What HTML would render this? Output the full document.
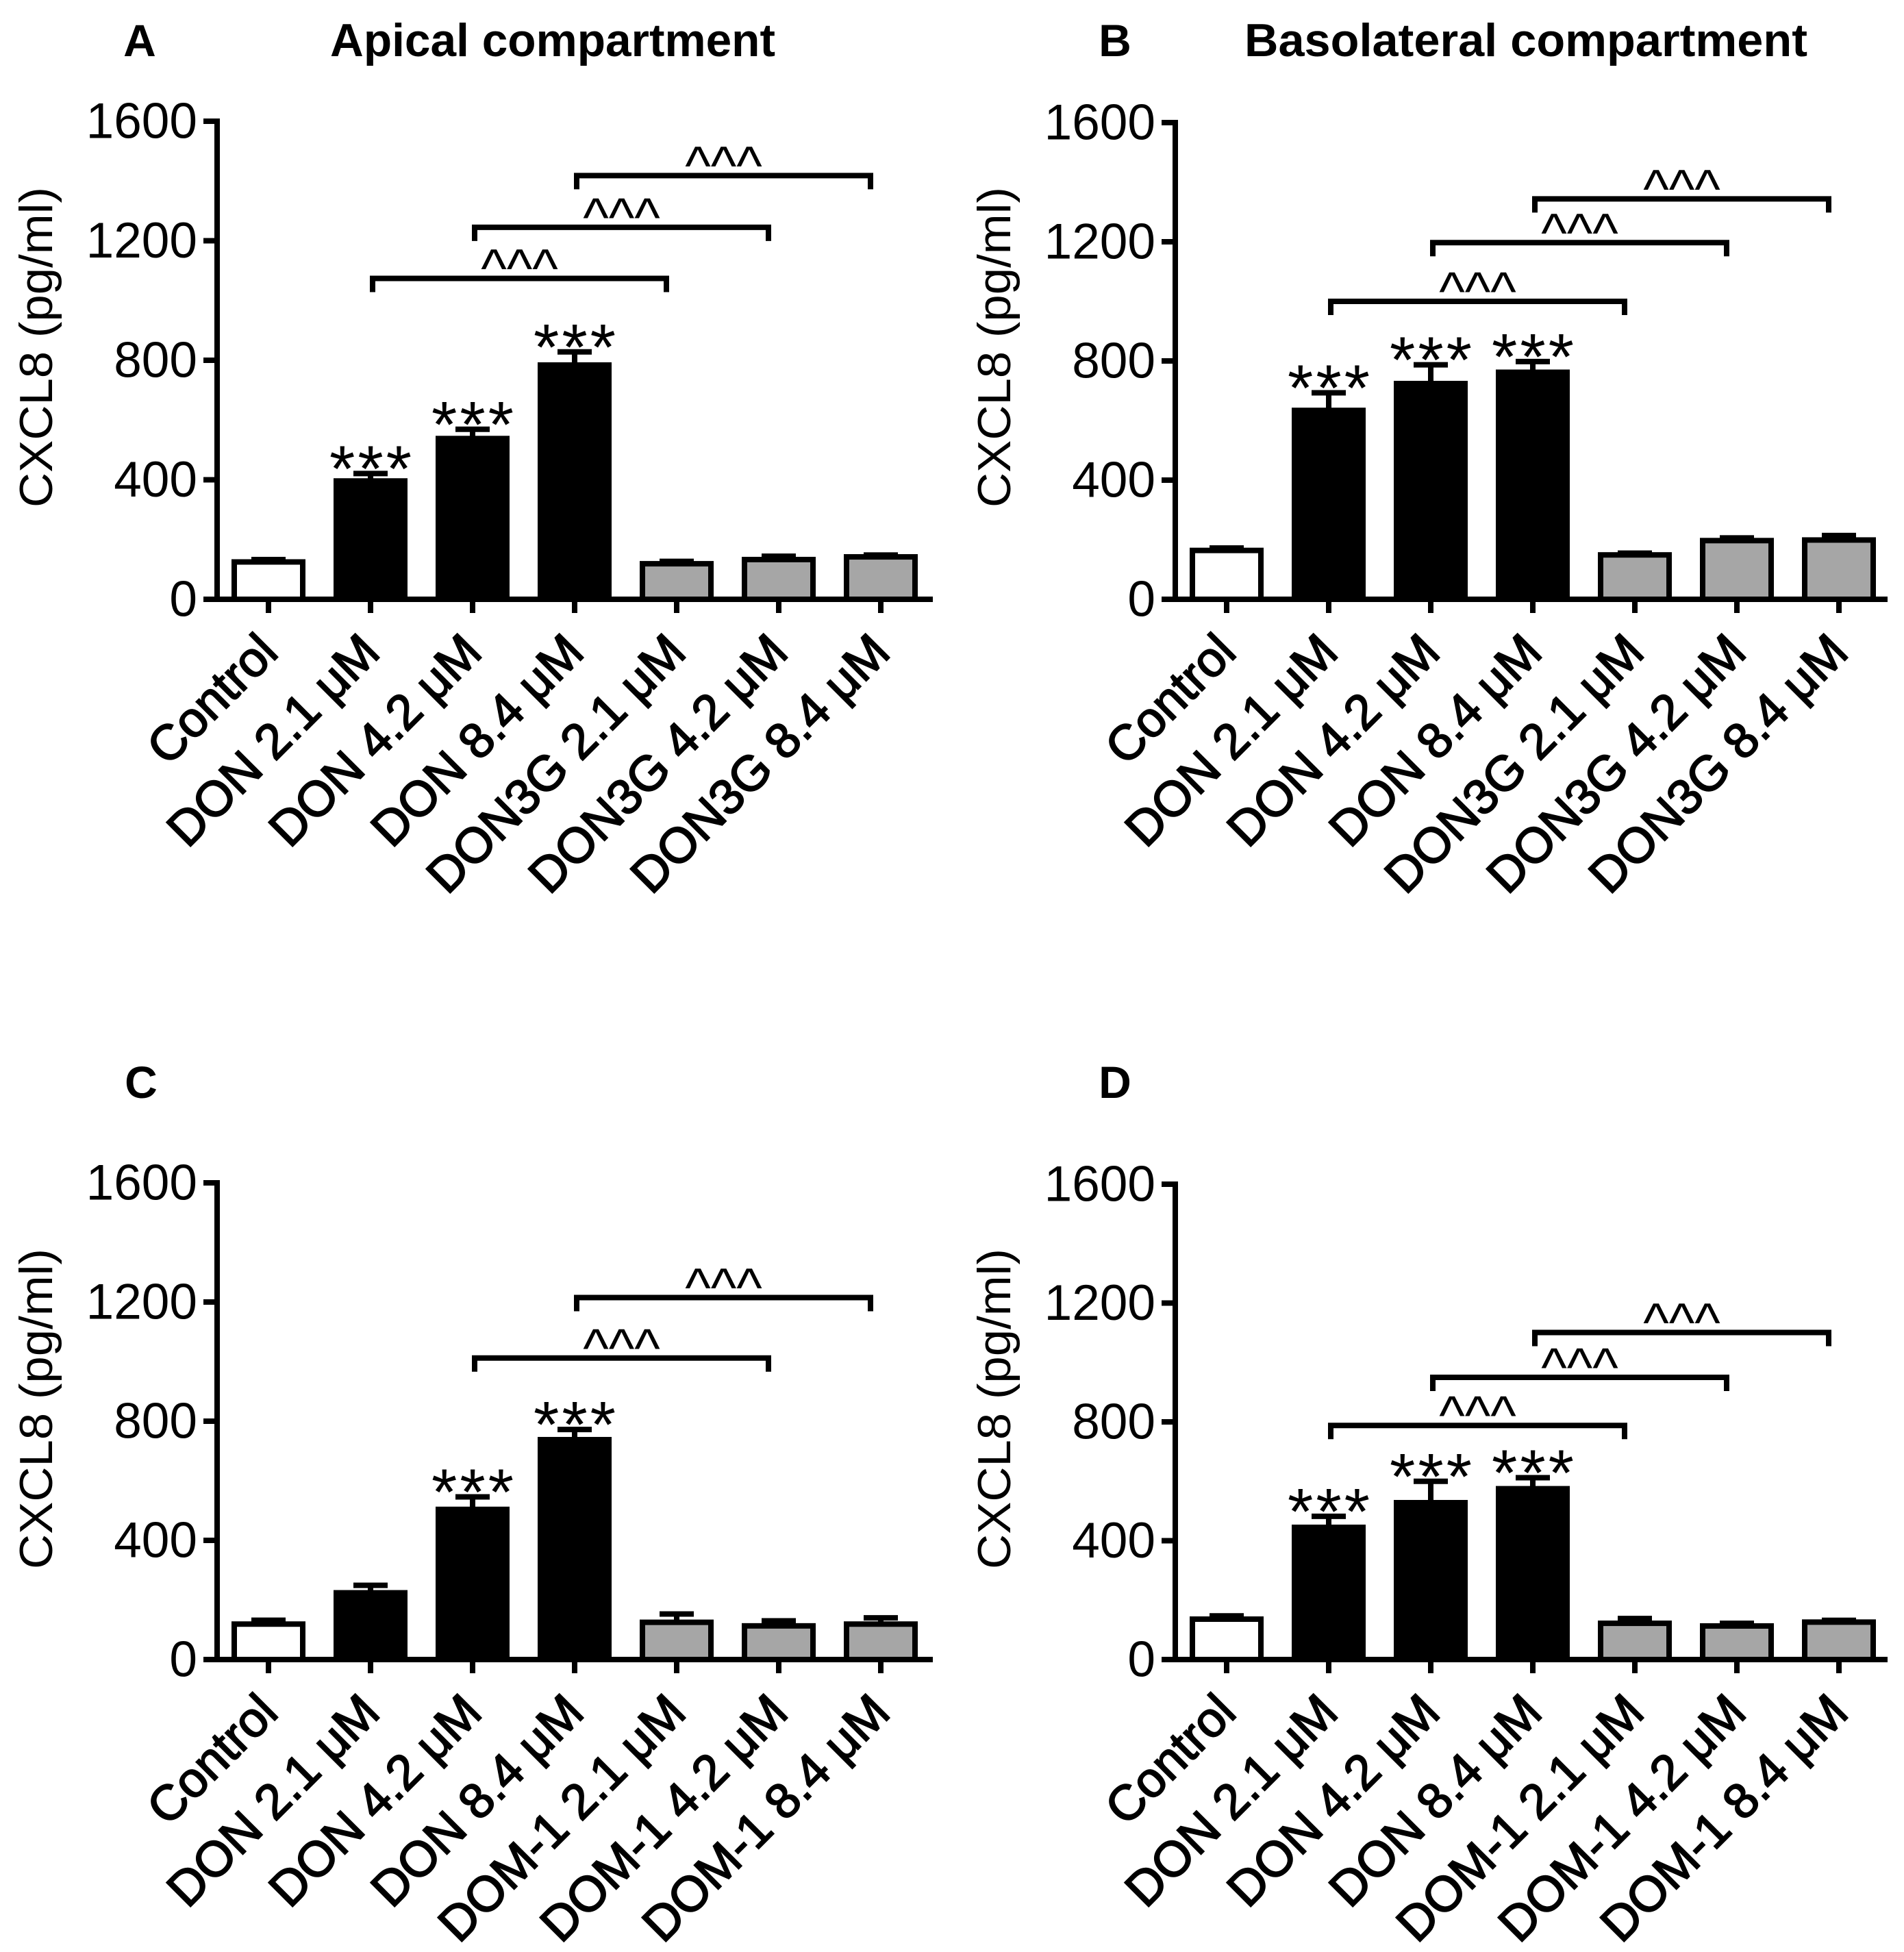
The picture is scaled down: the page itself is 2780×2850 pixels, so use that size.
<!DOCTYPE html>
<html><head><meta charset="utf-8">
<style>
html,body{margin:0;padding:0;background:#fff;}
svg{display:block;font-family:"Liberation Sans",sans-serif;}
</style></head>
<body>
<svg id="fig" width="2780" height="2850" viewBox="0 0 2780 2850" xmlns="http://www.w3.org/2000/svg">
<rect x="0" y="0" width="2780" height="2850" fill="#fff"/>
</svg>
<script>
// ---------- data ----------
const tickValues = [0, 400, 800, 1200, 1600];
const categoriesAB = ["Control","DON 2.1 μM","DON 4.2 μM","DON 8.4 μM","DON3G 2.1 μM","DON3G 4.2 μM","DON3G 8.4 μM"];
const categoriesCD = ["Control","DON 2.1 μM","DON 4.2 μM","DON 8.4 μM","DOM-1 2.1 μM","DOM-1 4.2 μM","DOM-1 8.4 μM"];

const valuesA = [125, 396, 538, 784, 119, 133, 142];
const errTopA = [133, 421, 569, 828, 127, 144, 148];
const starsA = [0, 1, 1, 1, 0, 0, 0];
const bracketsA = [[1, 4, 1074], [2, 5, 1245], [3, 6, 1418]];

const valuesB = [164, 634, 724, 762, 149, 197, 199];
const errTopB = [172, 693, 787, 798, 155, 206, 214];
const starsB = [0, 1, 1, 1, 0, 0, 0];
const bracketsB = [[1, 4, 1000], [2, 5, 1197], [3, 6, 1344]];

const valuesC = [119, 224, 504, 738, 125, 113, 119];
const errTopC = [132, 249, 546, 772, 153, 130, 140];
const starsC = [0, 0, 1, 1, 0, 0, 0];
const bracketsC = [[2, 5, 1012], [3, 6, 1215]];

const valuesD = [136, 445, 528, 575, 122, 113, 126];
const errTopD = [147, 482, 600, 612, 138, 122, 132];
const starsD = [0, 1, 1, 1, 0, 0, 0];
const bracketsD = [[1, 4, 788], [2, 5, 950], [3, 6, 1101]];

const yMax = 1600;
const barColors = ["#ffffff","#000000","#000000","#000000","#a6a6a6","#a6a6a6","#a6a6a6"];

// ---------- layout ----------
const panels = [
  {id:"a", letter:"A", title:"Apical compartment", titleX:807, titleLen:650, letterX:204, topY:59,
   ax:317, y0:875, y1:177, xEnd:1362, cats:categoriesAB, vals:valuesA, errs:errTopA, stars:starsA, br:bracketsA, ytitleY:507},
  {id:"b", letter:"B", title:"Basolateral compartment", titleX:2228, titleLen:822, letterX:1628, topY:59,
   ax:1716, y0:875, y1:179, xEnd:2756, cats:categoriesAB, vals:valuesB, errs:errTopB, stars:starsB, br:bracketsB, ytitleY:507},
  {id:"c", letter:"C", title:"", letterX:206, topY:1580,
   ax:317, y0:2423, y1:1727, xEnd:1362, cats:categoriesCD, vals:valuesC, errs:errTopC, stars:starsC, br:bracketsC, ytitleY:2057},
  {id:"d", letter:"D", title:"", letterX:1628, topY:1580,
   ax:1716, y0:2423, y1:1729, xEnd:2756, cats:categoriesCD, vals:valuesD, errs:errTopD, stars:starsD, br:bracketsD, ytitleY:2057}
];

const NS = "http://www.w3.org/2000/svg";
const svg = document.getElementById("fig");
function mk(tag, attrs, parent, text){
  const e = document.createElementNS(NS, tag);
  for (const k in attrs) e.setAttribute(k, attrs[k]);
  if (text !== undefined) e.textContent = text;
  parent.appendChild(e);
  return e;
}
const LW = 8;

panels.forEach(p => {
  const g = mk("g", {}, svg);
  
  
  const yS = v => p.y0 - (v / yMax) * (p.y0 - p.y1);
  const xS = i => p.ax + 75 + i * 149;

  const lt = mk("text", {x:p.letterX, y:p.topY, "font-size":66, "font-weight":"bold", "text-anchor":"middle", "dominant-baseline":"central"}, g, p.letter);
  
  
  if (p.title) {
    const tt = mk("text", {x:p.titleX, y:p.topY, "font-size":68, "font-weight":"bold", "text-anchor":"middle", "dominant-baseline":"central", textLength:p.titleLen, lengthAdjust:"spacingAndGlyphs"}, g, p.title);
    
    
  }

  const yt = mk("text", {x:0, y:0, "font-size":68, "text-anchor":"middle", "dominant-baseline":"central",
    transform:`translate(${p.ax-264},${p.ytitleY}) rotate(-90)`, textLength:468, lengthAdjust:"spacingAndGlyphs"}, g, "CXCL8 (pg/ml)");
  
  

  p.vals.forEach((v, i) => {
    const cx = xS(i);
    const r = mk("rect", {x:cx-50, y:yS(v), width:100, height:p.y0 - yS(v), fill:barColors[i], stroke:"#000", "stroke-width":LW}, g);
    
    
    const et = yS(p.errs[i]);
    const el = mk("path", {d:`M${cx},${yS(v)} V${et} M${cx-25},${et} H${cx+25}`, stroke:"#000", "stroke-width":LW, fill:"none"}, g);
    
    
    if (p.stars[i]) {
      const st = mk("text", {x:cx + 2, y:et + 26, "font-size":96, "letter-spacing":4, "text-anchor":"middle"}, g, "***");
      
      
    }
  });

  const ya = mk("line", {x1:p.ax, y1:p.y1 - 4, x2:p.ax, y2:p.y0 + 4, stroke:"#000", "stroke-width":LW}, g);
  
  
  const xa = mk("line", {x1:p.ax - 4, y1:p.y0, x2:p.xEnd, y2:p.y0, stroke:"#000", "stroke-width":LW}, g);
  
  

  tickValues.forEach(t => {
    const y = yS(t);
    const tk = mk("line", {x1:p.ax - 20, y1:y, x2:p.ax, y2:y, stroke:"#000", "stroke-width":LW}, g);
    
    
    const tl = mk("text", {x:p.ax - 29, y:y, "font-size":73, "text-anchor":"end", "dominant-baseline":"central"}, g, String(t));
    
    
  });

  p.cats.forEach((c, i) => {
    const cx = xS(i);
    const tk = mk("line", {x1:cx, y1:p.y0, x2:cx, y2:p.y0 + 20, stroke:"#000", "stroke-width":LW}, g);
    
    
    const xl = mk("text", {x:0, y:0, "font-size":72, "stroke":"#000", "stroke-width":2, "text-anchor":"end", "dominant-baseline":"central",
      transform:`translate(${cx},${p.y0 + 64}) rotate(-45)`}, g, c);
    
    
  });

  p.br.forEach(b => {
    const xa1 = xS(b[0]) + 3, xb = xS(b[1]) - 15, y = yS(b[2]);
    const bp = mk("path", {d:`M${xa1},${y + 20} V${y} H${xb} V${y + 20}`, stroke:"#000", "stroke-width":LW, fill:"none"}, g);
    
    
    const ct = mk("text", {x:(xa1 + xb) / 2, y:y + 13, "font-size":80, "text-anchor":"middle"}, g, "^^^");
    
    
  });
});
</script>
</body></html>
